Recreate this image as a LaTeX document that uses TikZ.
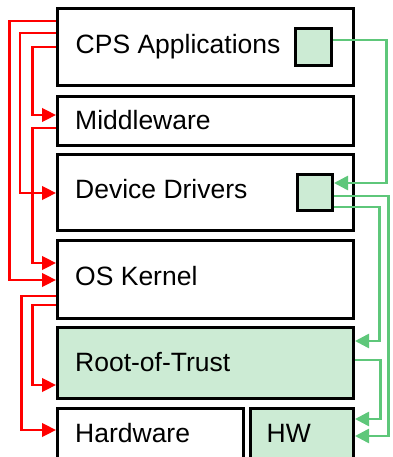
\documentclass[tikz,border=0pt]{standalone}
\usepackage{fontspec}
\setmainfont{Liberation Sans}
\usetikzlibrary{arrows.meta}
\definecolor{gline}{RGB}{94,199,122}
\definecolor{gfill}{RGB}{204,235,212}
\definecolor{rline}{RGB}{255,0,0}
\tikzset{
  box/.style={draw=black, line width=3pt, fill=white, inner sep=0pt, rectangle},
  gbox/.style={box, fill=gfill},
  lbl/.style={anchor=base west, inner sep=0pt, font=\fontsize{26.5pt}{30pt}\selectfont},
  rarrow/.style={draw=rline, line width=2.6pt, -{Triangle[length=14pt,width=13.5pt]}},
  garrow/.style={draw=gline, line width=2.6pt, -{Triangle[length=14pt,width=14pt]}},
}
\begin{document}
\begin{tikzpicture}[x=1pt,y=-1pt]
\useasboundingbox (0,0) rectangle (392,457);
% boxes
\node[box, minimum width=296pt, minimum height=77pt] (cps) at (205.5,47.5) {};
\node[box, minimum width=296pt, minimum height=49.5pt] (mw) at (205.5,121.25) {};
\node[box, minimum width=296pt, minimum height=75.5pt] (dd) at (205.5,192.25) {};
\node[box, minimum width=296pt, minimum height=77.5pt] (os) at (205.5,279.25) {};
\node[gbox, minimum width=296pt, minimum height=70.5pt] (rot) at (205.5,362.75) {};
\node[box, minimum width=186pt, minimum height=61.5pt] (hwr) at (150.5,439.25) {};
\node[gbox, minimum width=103pt, minimum height=61.5pt] (hw) at (302,439.25) {};
\node[gbox, minimum width=36pt, minimum height=37pt] (sqa) at (313.5,47) {};
\node[gbox, minimum width=35pt, minimum height=36pt] (sqb) at (315,192.5) {};
% labels
\node[lbl] (tcps) at (75.5,53.3) {CPS Applications};
\node[lbl] (tmw) at (75,130) {Middleware};
\node[lbl] (tdd) at (75,198) {Device Drivers};
\node[lbl] (tos) at (75,285) {OS Kernel};
\node[lbl] (trot) at (75,371) {Root-of-Trust};
\node[lbl] (thwr) at (75,442) {Hardware};
\node[lbl] (thw) at (266.5,442) {HW};
% red connectors
\draw[rarrow] (cps.west |- 0,21) -- (9.5,21) |- (os.west |- 0,280);
\draw[rarrow] (cps.west |- 0,33) -- (20,33) |- (dd.west |- 0,193);
\draw[rarrow] (cps.west |- 0,47) -- (32.3,47) |- (mw.west |- 0,115);
\draw[rarrow] (mw.west |- 0,128) -- (32.3,128) |- (os.west |- 0,263);
\draw[rarrow] (os.west |- 0,296) -- (21.3,296) |- (hwr.west |- 0,430);
\draw[rarrow] (os.west |- 0,305) -- (32.3,305) |- (rot.west |- 0,385);
% green connectors
\draw[garrow] (sqa.east |- 0,40) -- (386.7,40) |- (sqb.east |- 0,183);
\draw[garrow] (sqb.east |- 0,196) -- (388.7,196) |- (hw.east |- 0,436);
\draw[garrow] (sqb.east |- 0,207) -- (379.5,207) |- (rot.east |- 0,341);
\draw[garrow] (rot.east |- 0,360) -- (380.7,360) |- (hw.east |- 0,419);
\end{tikzpicture}
\end{document}
